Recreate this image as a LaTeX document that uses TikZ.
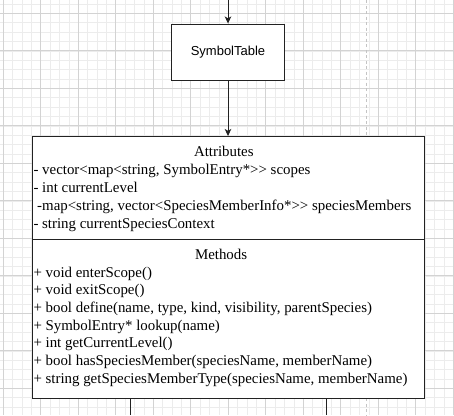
\documentclass[tikz,border=0pt]{standalone}
\usepackage{fontspec}
\setmainfont{Liberation Serif}
\newfontfamily\arialfont{Liberation Sans}
\usetikzlibrary{arrows.meta}
\definecolor{gridmajor}{HTML}{D3D3D3}
\definecolor{gridminor}{HTML}{ECECEC}
\definecolor{guide}{HTML}{C4C4C4}
\definecolor{ink}{HTML}{222222}
\newcommand{\gtgt}{>\kern0pt>}
\tikzset{
  stbox/.style={draw=ink, line width=1pt, fill=white, minimum width=112.6pt, minimum height=56pt, inner sep=0pt,
    font=\arialfont\fontsize{13}{15.6}\selectfont},
  classbox/.style={draw=ink, line width=1pt, fill=white, minimum width=391.7pt, minimum height=262.3pt, inner sep=0pt, anchor=north west},
  arr/.style={draw=ink, line width=1pt, -{Stealth[length=7pt,width=6.5pt,inset=1.8pt]}},
  conn/.style={draw=ink, line width=1pt},
  member/.style={anchor=base west, inner sep=0pt, font=\fontsize{14.9}{17.8}\selectfont},
  ctitle/.style={anchor=base, inner sep=0pt, font=\fontsize{14.9}{17.8}\selectfont},
  guideline/.style={draw=guide, line width=0.8pt, dash pattern=on 3pt off 2.5pt}
}
\begin{document}
\begin{tikzpicture}[x=1pt,y=-1pt]
\useasboundingbox (0,0) rectangle (454,415);
\fill[white] (0,0) rectangle (454,415);
\begin{scope}
\clip (0,0) rectangle (454,415);
\foreach \k in {0,...,48} {\draw[gridminor, line width=0.6pt] ({3.2+9.375*\k},0) -- ({3.2+9.375*\k},415);}
\foreach \k in {-1,...,43} {\draw[gridminor, line width=0.6pt] (0,{13.3+9.375*\k}) -- (454,{13.3+9.375*\k});}
\foreach \k in {0,...,12} {\draw[gridmajor, line width=0.7pt] ({3.2+37.5*\k},0) -- ({3.2+37.5*\k},415);}
\foreach \k in {0,...,11} {\draw[gridmajor, line width=0.7pt] (0,{13.3+37.5*\k}) -- (454,{13.3+37.5*\k});}
\end{scope}
% dashed guide
\coordinate (g1) at (366,0);
\coordinate (g2) at (366,136);
\coordinate (g3) at (366,398.3);
\coordinate (g4) at (366,415);
\draw[guideline] (g1) -- (g2);
\draw[guideline] (g3) -- (g4);
% nodes
\coordinate (top) at (228,0);
\node[stbox] (st) at (228,52) {SymbolTable};
\node[classbox] (cls) at (32.3,136) {};
\draw[arr] (top) -- (st.north);
\draw[arr] (st.south) -- (st.south |- cls.north);
% divider
\coordinate (divl) at (32.3,239.3);
\coordinate (divr) at (424,239.3);
\draw[conn] (divl) -- (divr);
% bottom connectors
\coordinate (b1) at (130.5,415);
\coordinate (b2) at (326.5,415);
\draw[conn] (cls.south -| b1) -- (b1);
\draw[conn] (cls.south -| b2) -- (b2);
% attributes
\node[ctitle] (attrT) at (223.8,156.6) {Attributes};
\node[member] (a1) at (33.3,174.4) {- vector<map<string, SymbolEntry*\gtgt{} scopes};
\node[member] (a2) at (33.3,192.35) {- int currentLevel};
\node[member] (a3) at (33.3,210.3) {\ -map<string, vector<SpeciesMemberInfo*\gtgt{} speciesMembers};
\node[member] (a4) at (33.3,228.25) {- string currentSpeciesContext};
% methods
\node[ctitle] (methT) at (221.1,259.6) {Methods};
\node[member] (m1) at (33.3,277.3) {+ void enterScope()};
\node[member] (m2) at (33.3,294.97) {+ void exitScope()};
\node[member] (m3) at (33.3,312.64) {+ bool define(name, type, kind, visibility, parentSpecies)};
\node[member] (m4) at (33.3,330.31) {+ SymbolEntry* lookup(name)};
\node[member] (m5) at (33.3,347.98) {+ int getCurrentLevel()};
\node[member] (m6) at (33.3,365.65) {+ bool hasSpeciesMember(speciesName, memberName)};
\node[member] (m7) at (33.3,383.3) {+ string getSpeciesMemberType(speciesName, memberName)};
\end{tikzpicture}
\end{document}
